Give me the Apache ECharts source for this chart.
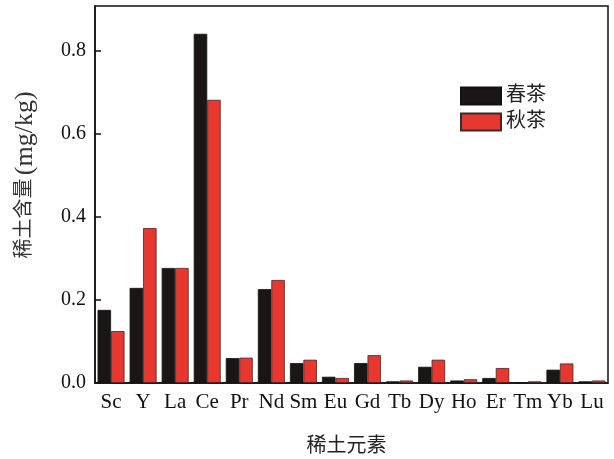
<!DOCTYPE html>
<html>
<head>
<meta charset="utf-8">
<script src="https://cdn.jsdelivr.net/npm/echarts@6/dist/echarts.min.js"></script>
<style>html,body{margin:0;padding:0;background:#fff}#c{width:614px;height:459px}</style>
</head>
<body>
<div id="c"></div>
<script>
const categories = ['Sc','Y','La','Ce','Pr','Nd','Sm','Eu','Gd','Tb','Dy','Ho','Er','Tm','Yb','Lu'];
const springTea = [0.176,0.229,0.277,0.841,0.060,0.226,0.048,0.015,0.048,0.004,0.039,0.006,0.012,0.002,0.032,0.004];
const autumnTea = [0.125,0.373,0.277,0.682,0.061,0.248,0.056,0.012,0.067,0.006,0.056,0.009,0.036,0.004,0.047,0.006];
const seriesNames = ['春茶','秋茶'];
const yTicks = [0, 0.2, 0.4, 0.6, 0.8];

const serif = '"Liberation Serif", "Times New Roman", "Noto Sans CJK SC", serif';
const chart = echarts.init(document.getElementById('c'));
chart.setOption({
  animation: false,
  backgroundColor: '#fff',
  grid: { left: 95, right: 6, top: 6, bottom: 76, outerBoundsMode: 'none', containLabel: false,
    show: true, borderColor: '#111', borderWidth: 1.5, backgroundColor: 'transparent' },
  legend: {
    orient: 'vertical', left: 460, top: 86, itemWidth: 40, itemHeight: 17, itemGap: 6, padding: 0,
    icon: 'rect',
    textStyle: { fontFamily: serif, fontSize: 20, color: '#222' },
    data: seriesNames
  },
  xAxis: {
    type: 'category', data: categories,
    name: '稀土元素', nameLocation: 'middle', nameGap: 54,
    nameTextStyle: { fontFamily: serif, fontSize: 20, color: '#222', padding: [0, 10, 0, 0] },
    axisLine: { lineStyle: { color: '#111', width: 1.5 } },
    axisTick: { show: false },
    axisLabel: { fontFamily: serif, fontSize: 21, color: '#111', margin: 9, interval: 0 }
  },
  yAxis: {
    type: 'value', min: 0, max: 0.908, interval: 0.2,
    splitLine: { show: false },
    axisLine: { show: true, lineStyle: { color: '#111', width: 1.5 } },
    axisTick: { show: true, inside: true, length: 6, lineStyle: { color: '#111', width: 1.5 } },
    axisLabel: { fontFamily: serif, fontSize: 20, color: '#111', margin: 9, showMaxLabel: false,
      formatter: v => yTicks.some(t => Math.abs(t - v) < 1e-6) ? v.toFixed(1) : '' }
  },
  graphic: [{
    type: 'text', x: 25, y: 175, rotation: Math.PI / 2,
    style: {
      text: '{a|稀土含量} {b|(mg/kg)}', align: 'center', verticalAlign: 'middle',
      rich: {
        a: { fontFamily: serif, fontSize: 20, fill: '#333', color: '#333' },
        b: { fontFamily: serif, fontSize: 26, fill: '#333', color: '#333' }
      }
    }
  }],
  series: [
    { name: seriesNames[0], type: 'bar', data: springTea, barGap: '0%', barCategoryGap: '16%',
      itemStyle: { color: '#1a1616', borderColor: '#111', borderWidth: 0.8 } },
    { name: seriesNames[1], type: 'bar', data: autumnTea,
      itemStyle: { color: '#e8372e', borderColor: '#3a2a2a', borderWidth: 0.8 } }
  ]
});
</script>
</body>
</html>
